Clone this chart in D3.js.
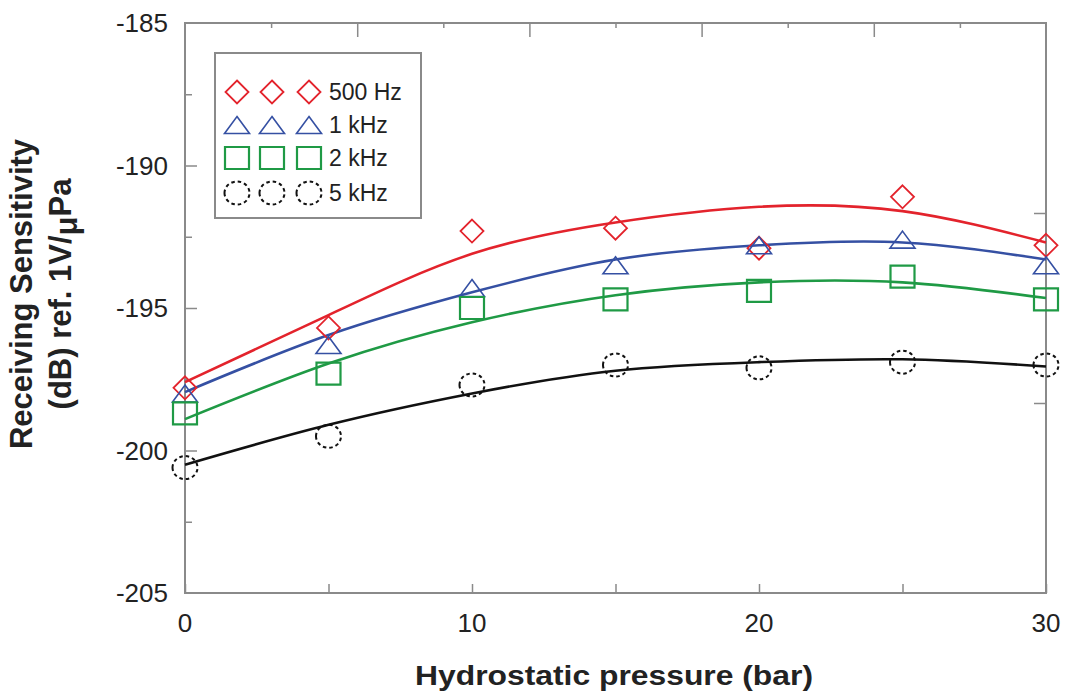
<!DOCTYPE html>
<html>
<head>
<meta charset="utf-8">
<script src="https://cdn.jsdelivr.net/npm/d3@7"></script>
<style>
  body { margin: 0; background: #fff; }
  text { font-family: Arial, "Liberation Sans", sans-serif; }
</style>
</head>
<body>
<div id="chart"></div>
<script>
// pressure steps (bar)
const pressure = [0, 5, 10, 15, 20, 25, 30];

// measured sensitivity, dB re 1V/uPa
const s500 = [-197.8, -195.7, -192.3, -192.2, -192.9, -191.1, -192.8];
const s1k  = [-198.0, -196.3, -194.3, -193.5, -192.8, -192.6, -193.5];
const s2k  = [-198.7, -197.3, -195.0, -194.7, -194.4, -193.9, -194.7];
const s5k  = [-200.6, -199.5, -197.7, -197.0, -197.1, -196.9, -197.0];

// fitted curves, sampled at the same pressures
const f500 = [-197.6, -195.25, -193.1, -192.0, -191.45, -191.6, -192.7];
const f1k  = [-197.95, -195.95, -194.45, -193.3, -192.8, -192.7, -193.3];
const f2k  = [-198.9, -196.95, -195.5, -194.55, -194.1, -194.1, -194.65];
const f5k  = [-200.5, -199.1, -198.0, -197.2, -196.9, -196.8, -197.05];

const seriesNames = ["500 Hz", "1 kHz", "2 kHz", "5 kHz"];
const yTicks = [-185, -190, -195, -200, -205];
const xTicks = [0, 10, 20, 30];

const W = 1065, H = 700;
const svg = d3.select("#chart").append("svg")
  .attr("width", W).attr("height", H);

const x = d3.scaleLinear().domain([0, 30]).range([185, 1046]);
const y = d3.scaleLinear().domain([-205, -185]).range([593, 23]);

const frame = "#8a8a8a";

// marker shapes, slightly wider than tall
const shapes = {
  diamond: (w, h) => `M0,${-h}L${w},0L0,${h}L${-w},0Z`,
  triangle: (w, h) => `M0,${-h}L${w},${h}L${-w},${h}Z`,
  square: (w, h) => `M${-w},${-h}H${w}V${h}H${-w}Z`,
  circle: (w, h) => `M${-w},0A${w},${h} 0 1,0 ${w},0A${w},${h} 0 1,0 ${-w},0Z`
};

const series = [
  { name: seriesNames[0], pts: s500, fit: f500, color: "#e3232c", shape: "diamond", w: 11.5, h: 11.5, sw: 1.8, dash: null },
  { name: seriesNames[1], pts: s1k,  fit: f1k,  color: "#3550a3", shape: "triangle", w: 12.5, h: 8.5, sw: 1.6, dash: null },
  { name: seriesNames[2], pts: s2k,  fit: f2k,  color: "#1f9a45", shape: "square", w: 12, h: 11, sw: 2.2, dash: null },
  { name: seriesNames[3], pts: s5k,  fit: f5k,  color: "#111111", shape: "circle", w: 12.5, h: 11.5, sw: 2, dash: "3.5 3" }
];

// frame
svg.append("rect")
  .attr("x", x(0)).attr("y", y(-185))
  .attr("width", x(30) - x(0)).attr("height", y(-205) - y(-185))
  .attr("fill", "none").attr("stroke", frame).attr("stroke-width", 2);

// bottom axis ticks (inward)
const gx = svg.append("g").attr("transform", `translate(0,${y(-205)})`)
  .call(d3.axisBottom(x).tickValues([0, 5, 10, 15, 20, 25, 30]).tickSizeInner(-9).tickSizeOuter(0).tickFormat(""));
gx.select(".domain").remove();
gx.selectAll("line").attr("stroke", frame).attr("stroke-width", 1.5);

svg.selectAll(".xlab").data(xTicks).join("text")
  .attr("class", "xlab")
  .attr("x", d => x(d)).attr("y", 632)
  .attr("text-anchor", "middle")
  .attr("font-size", 26).attr("fill", "#222")
  .text(d => d);

// top axis ticks
const gt = svg.append("g").attr("transform", `translate(0,${y(-185)})`)
  .call(d3.axisTop(x).tickValues(d3.range(3, 30, 3)).tickSizeOuter(0).tickFormat(""));
gt.select(".domain").remove();
gt.selectAll("line")
  .attr("y2", d => d % 6 === 0 ? 14 : 5)
  .attr("stroke", frame).attr("stroke-width", 1.5);

// left axis ticks
const gy = svg.append("g").attr("transform", `translate(${x(0)},0)`)
  .call(d3.axisLeft(y).tickValues(d3.range(-202.5, -185, 2.5)).tickSizeOuter(0).tickFormat(""));
gy.select(".domain").remove();
gy.selectAll("line")
  .attr("x2", d => d % 5 === 0 ? 12 : 7)
  .attr("stroke", frame).attr("stroke-width", 1.5);

svg.selectAll(".ylab").data(yTicks).join("text")
  .attr("class", "ylab")
  .attr("x", 168).attr("y", d => y(d))
  .attr("dy", "0.36em")
  .attr("text-anchor", "end")
  .attr("font-size", 26).attr("fill", "#222")
  .text(d => d);

// right axis ticks
const gr = svg.append("g").attr("transform", `translate(${x(30)},0)`)
  .call(d3.axisRight(y).tickValues([-185 - 20 / 3, -185 - 40 / 3]).tickSizeInner(-12).tickSizeOuter(0).tickFormat(""));
gr.select(".domain").remove();
gr.selectAll("line").attr("stroke", frame).attr("stroke-width", 1.5);

// fitted curves
const line = d3.line()
  .x((d, i) => x(pressure[i]))
  .y(d => y(d))
  .curve(d3.curveNatural);

svg.selectAll(".fit").data(series).join("path")
  .attr("class", "fit")
  .attr("d", d => line(d.fit))
  .attr("fill", "none")
  .attr("stroke", d => d.color)
  .attr("stroke-width", 2.6);

// data markers
series.forEach(s => {
  svg.append("g").selectAll("path").data(s.pts).join("path")
    .attr("transform", (d, i) => `translate(${x(pressure[i])},${y(d)})`)
    .attr("d", shapes[s.shape](s.w, s.h))
    .attr("fill", "none")
    .attr("stroke", s.color)
    .attr("stroke-width", s.sw)
    .attr("stroke-dasharray", s.dash);
});

// legend
const legend = svg.append("g");
legend.append("rect")
  .attr("x", 215).attr("y", 53).attr("width", 206).attr("height", 165)
  .attr("fill", "#fff").attr("stroke", frame).attr("stroke-width", 2);

const legY = [92, 125, 158, 193];
const legX = [237, 272, 309];
series.forEach((s, k) => {
  legX.forEach(lx => {
    legend.append("path")
      .attr("transform", `translate(${lx},${legY[k]})`)
      .attr("d", shapes[s.shape](s.w, s.h))
      .attr("fill", "none")
      .attr("stroke", s.color)
      .attr("stroke-width", s.sw)
      .attr("stroke-dasharray", s.dash);
  });
  legend.append("text")
    .attr("x", 329).attr("y", legY[k])
    .attr("dy", "0.36em")
    .attr("font-size", 23).attr("fill", "#222")
    .text(s.name);
});

// axis titles
svg.append("text")
  .attr("x", 415).attr("y", 685)
  .attr("textLength", 398).attr("lengthAdjust", "spacingAndGlyphs")
  .attr("font-size", 27).attr("font-weight", "bold").attr("fill", "#222")
  .text("Hydrostatic pressure (bar)");

const yt = svg.append("text")
  .attr("transform", "translate(0,294) rotate(-90)")
  .attr("text-anchor", "middle")
  .attr("font-size", 31).attr("font-weight", "bold").attr("fill", "#222");
yt.append("tspan").attr("x", 0).attr("y", 32).text("Receiving Sensitivity");
const l2 = yt.append("tspan").attr("x", 0).attr("y", 71);
l2.append("tspan").text("(dB) ref. 1V/");
l2.append("tspan").attr("dy", 6).text("μ");
l2.append("tspan").attr("dy", -6).text("Pa");
</script>
</body>
</html>
